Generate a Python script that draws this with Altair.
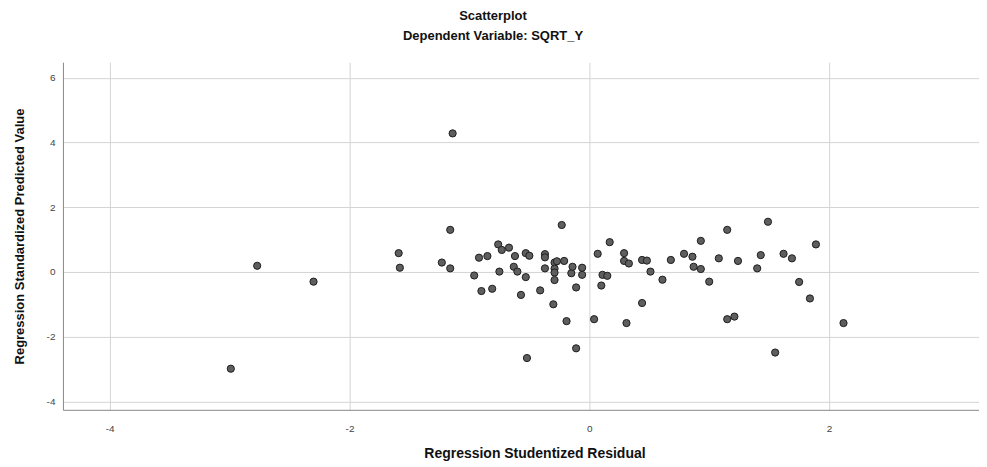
import altair as alt
import pandas as pd

# Regression Studentized Residual (x) and Regression Standardized Predicted Value (y)
resid = [
    -2.99, -2.77, -2.30, -1.59, -1.58, -1.23, -1.16, -1.16, -1.14, -0.96,
    -0.92, -0.85, -0.90, -0.81, -0.76, -0.73, -0.67, -0.75, -0.62, -0.63,
    -0.60, -0.53, -0.57, -0.53, -0.50, -0.52, -0.41, -0.37, -0.37, -0.37,
    -0.30, -0.29, -0.29, -0.29, -0.29, -0.21, -0.23, -0.19, -0.15, -0.14,
    -0.11, -0.11, -0.06, -0.06, 0.04, 0.07, 0.11, 0.15, 0.10, 0.17,
    0.29, 0.29, 0.33, 0.31, 0.44, 0.48, 0.44, 0.51, 0.61, 0.68,
    0.79, 0.86, 0.87, 0.93, 0.93, 1.00, 1.08, 1.15, 1.24, 1.15,
    1.21, 1.40, 1.43, 1.49, 1.55, 1.62, 1.69, 1.75, 1.84, 1.89,
    2.12, -0.27,
]
pred = [
    -2.99, 0.19, -0.30, 0.58, 0.13, 0.29, 0.11, 1.30, 4.28, -0.11,
    0.44, 0.49, -0.59, -0.52, 0.85, 0.68, 0.75, 0.01, 0.49, 0.16,
    0.01, -0.16, -0.71, 0.58, 0.50, -2.66, -0.57, 0.55, 0.45, 0.11,
    -1.00, 0.29, 0.10, -0.02, -0.25, 0.34, 1.45, -1.52, -0.04, 0.16,
    -0.48, -2.36, -0.09, 0.13, -1.46, 0.56, -0.09, -0.12, -0.42, 0.92,
    0.58, 0.34, 0.26, -1.58, 0.37, 0.35, -0.96, 0.01, -0.24, 0.37,
    0.56, 0.47, 0.16, 0.09, 0.96, -0.30, 0.42, 1.30, 0.34, -1.46,
    -1.38, 0.11, 0.52, 1.55, -2.49, 0.56, 0.42, -0.31, -0.82, 0.85,
    -1.58, 0.33,
]

x_ticks = [-4, -2, 0, 2]
y_ticks = [-4, -2, 0, 2, 4, 6]

df = pd.DataFrame({"resid": resid, "pred": pred})

FONT = "Liberation Sans"

chart = (
    alt.Chart(df)
    .mark_circle(size=52, color="#5e5e5e", stroke="#1e1e1e", strokeWidth=1, opacity=1)
    .encode(
        x=alt.X(
            "resid:Q",
            scale=alt.Scale(domain=[-4.39, 3.25], nice=False, zero=False),
            axis=alt.Axis(
                values=x_ticks,
                labelExpr="toString(datum.value)",
                title="Regression Studentized Residual",
                titleFont=FONT,
                titleFontSize=14,
                titleFontWeight="bold",
                titleColor="#111111",
                titleX=472,
                titleY=44,
                titleBaseline="middle",
                labelFont=FONT,
                labelFontSize=10,
                labelColor="#444444",
                labelPadding=14,
                ticks=False,
                grid=True,
                gridColor="#d4d4d4",
                gridWidth=1,
                domainColor="#8a8a8a",
                domainWidth=1,
            ),
        ),
        y=alt.Y(
            "pred:Q",
            scale=alt.Scale(domain=[-4.26, 6.48], nice=False, zero=False),
            axis=alt.Axis(
                values=y_ticks,
                labelExpr="toString(datum.value)",
                title="Regression Standardized Predicted Value",
                titleFont=FONT,
                titleFontSize=13,
                titleFontWeight="bold",
                titleColor="#111111",
                titlePadding=20,
                labelFont=FONT,
                labelFontSize=10,
                labelColor="#444444",
                labelPadding=8,
                ticks=False,
                grid=True,
                gridColor="#d4d4d4",
                gridWidth=1,
                domainColor="#8a8a8a",
                domainWidth=1,
            ),
        ),
    )
    .properties(
        width=917,
        height=348,
        title=alt.TitleParams(
            text="Scatterplot",
            subtitle="Dependent Variable: SQRT_Y",
            font=FONT,
            fontSize=13,
            fontWeight="bold",
            color="#111111",
            subtitleFont=FONT,
            subtitleFontSize=13,
            subtitleFontWeight="bold",
            subtitleColor="#111111",
            subtitlePadding=7,
            anchor="middle",
            dx=-28,
            offset=19,
        ),
        autosize=alt.AutoSizeParams(type="none"),
        padding={"left": 55, "top": 54, "right": 0, "bottom": 56},
        background="white",
    )
    .configure_view(strokeWidth=0)
)

chart.save("out.html", embed_options={"renderer": "svg", "actions": False})
